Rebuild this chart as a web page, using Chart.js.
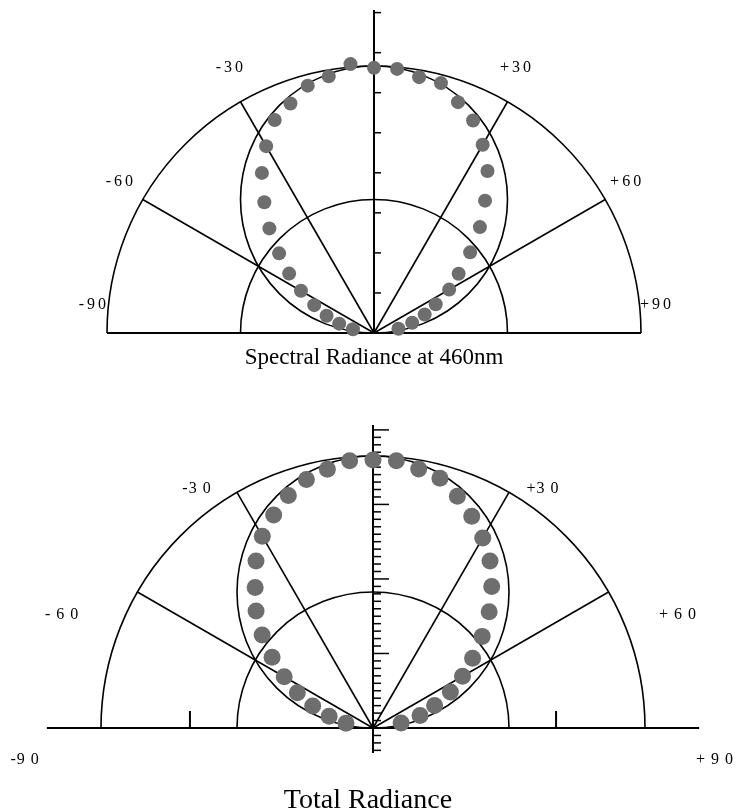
<!DOCTYPE html>
<html>
<head>
<meta charset="utf-8">
<script src="https://cdn.jsdelivr.net/npm/chart.js@4.4.0/dist/chart.umd.min.js"></script>
<style>
  body { margin: 0; background: #fff; }
  #wrap { position: relative; width: 739px; height: 812px; }
  canvas { position: absolute; left: 0; }
  #top-chart { top: 0; }
  #bottom-chart { top: 400px; }
</style>
</head>
<body>
<div id="wrap">
  <canvas id="top-chart" width="739" height="390"></canvas>
  <canvas id="bottom-chart" width="739" height="412"></canvas>
</div>
<script>
// Emission angle (deg from normal) and relative radiance (outer circle = 1)
const angles = [-80, -75, -70, -65, -60, -55, -50, -45, -40, -35, -30, -25, -20, -15, -10, -5,
                0, 5, 10, 15, 20, 25, 30, 35, 40, 45, 50, 55, 60, 65, 70, 75, 80];
const spectralValues = [0.080, 0.135, 0.189, 0.247, 0.316, 0.388, 0.464, 0.554, 0.639, 0.732, 0.808,
                        0.880, 0.915, 0.959, 0.976, 1.011, 0.993, 0.993, 0.973, 0.969, 0.920, 0.878,
                        0.814, 0.741, 0.647, 0.561, 0.470, 0.387, 0.325, 0.255, 0.202, 0.148, 0.093];
const totalValues = [0.101, 0.167, 0.236, 0.307, 0.377, 0.453, 0.532, 0.608, 0.674, 0.750, 0.814,
                     0.864, 0.910, 0.946, 0.966, 0.986, 0.985, 0.986, 0.967, 0.951, 0.907, 0.859,
                     0.807, 0.750, 0.679, 0.604, 0.524, 0.447, 0.380, 0.314, 0.241, 0.179, 0.105];

// Grid
const spokeAngles = [-60, -30, 30, 60];
const topAxisTicks = [0.15, 0.30, 0.45, 0.60, 0.75, 0.90, 1.05, 1.20];
const bottomMinorStep = 0.0274;
const bottomBaseTicks = [-0.673, 0.673];

// Text
const topAngleLabels = ['-90', '-60', '-30', '+30', '+60', '+90'];
const bottomAngleLabels = ['-9 0', '- 6 0', '-3 0', '+3 0', '+ 6 0', '+ 9 0'];
const topTitle = 'Spectral Radiance at 460nm';
const bottomTitle = 'Total Radiance';

function toPoints(values) {
    return values.map((r, i) => {
        const a = angles[i] * Math.PI / 180;
        return { x: r * Math.sin(a), y: r * Math.cos(a) };
    });
}

function line(ctx, x1, y1, x2, y2) {
    ctx.beginPath();
    ctx.moveTo(x1, y1);
    ctx.lineTo(x2, y2);
    ctx.stroke();
}

// Draws half circles, spokes, axes and labels from the chart scales
const polarFrame = {
    id: 'polarFrame',
    beforeDatasetsDraw(chart, args, opts) {
        const { ctx, scales: { x, y } } = chart;
        const px = v => x.getPixelForValue(v);
        const py = v => y.getPixelForValue(v);
        const cx = px(0), cy = py(0);
        const rx = px(1) - cx, ry = cy - py(1);

        ctx.save();
        ctx.strokeStyle = '#000';
        ctx.lineWidth = 1.6;

        [1, 0.5].forEach(r => {
            ctx.beginPath();
            ctx.ellipse(cx, cy, rx * r, ry * r, 0, Math.PI, 2 * Math.PI);
            ctx.stroke();
        });

        // cosine reference circle
        ctx.beginPath();
        ctx.ellipse(cx, py(0.5), rx / 2, ry / 2, 0, 0, 2 * Math.PI);
        ctx.stroke();

        spokeAngles.forEach(d => {
            const a = d * Math.PI / 180;
            line(ctx, cx, cy, px(Math.sin(a)), py(Math.cos(a)));
        });

        // baseline
        ctx.lineWidth = 2;
        line(ctx, px(-opts.baseExtent), cy, px(opts.baseExtent), cy);
        (opts.baseTicks || []).forEach(v => line(ctx, px(v), cy, px(v), cy - opts.baseTickLen));

        // vertical axis
        line(ctx, cx, py(opts.axisTop), cx, py(opts.axisBottom));
        ctx.lineWidth = 1.5;
        opts.ticks.forEach(t => line(ctx, cx, py(t.v), cx + t.len, py(t.v)));

        // angle labels
        ctx.fillStyle = '#000';
        ctx.font = '16px "Liberation Serif", "Times New Roman", serif';
        ctx.textAlign = 'center';
        ctx.textBaseline = 'middle';
        ctx.letterSpacing = opts.labelSpacing;
        opts.labels.forEach((text, i) => {
            const p = opts.labelPos[i];
            ctx.fillText(text, px(p[0]), py(p[1]));
        });

        ctx.letterSpacing = '0px';
        ctx.textBaseline = 'alphabetic';
        ctx.font = opts.titleFont;
        ctx.fillText(opts.title, opts.titleX, opts.titleY);
        ctx.restore();
    }
};

function makeChart(id, values, frame, xRange, yRange, dotRadius) {
    return new Chart(document.getElementById(id), {
        type: 'scatter',
        data: {
            datasets: [{
                data: toPoints(values),
                backgroundColor: '#6e6e6e',
                borderWidth: 0,
                pointRadius: dotRadius,
                clip: false
            }]
        },
        options: {
            responsive: false,
            animation: false,
            layout: { padding: 0, autoPadding: false },
            plugins: {
                legend: { display: false },
                tooltip: { enabled: false },
                polarFrame: frame
            },
            scales: {
                x: { type: 'linear', display: false, min: xRange[0], max: xRange[1] },
                y: { type: 'linear', display: false, min: yRange[0], max: yRange[1] }
            }
        },
        plugins: [polarFrame]
    });
}

// Top chart: origin at (374, 333), 267 px per unit
makeChart('top-chart', spectralValues, {
    baseExtent: 1,
    axisTop: 1.21,
    axisBottom: 0,
    ticks: topAxisTicks.map(v => ({ v: v, len: 7 })),
    labels: topAngleLabels,
    labelPos: [[-1.049, 0.105], [-0.948, 0.566], [-0.536, 0.993], [0.536, 0.993], [0.948, 0.566], [1.06, 0.105]],
    labelSpacing: '3px',
    title: topTitle,
    titleFont: '23px "Liberation Serif", "Times New Roman", serif',
    titleX: 374,
    titleY: 364
}, [-374 / 267, 365 / 267], [-57 / 267, 333 / 267], 7);

// Bottom chart: origin at (373, 728), 272 px per unit
const bottomTicks = [];
for (let k = -3; k <= 40; k++) {
    if (k === 0) continue;
    bottomTicks.push({ v: k * bottomMinorStep, len: k % 10 === 0 ? 16 : 8 });
}

makeChart('bottom-chart', totalValues, {
    baseExtent: 1.199,
    baseTicks: bottomBaseTicks,
    baseTickLen: 17,
    axisTop: 1.114,
    axisBottom: -0.092,
    ticks: bottomTicks,
    labels: bottomAngleLabels,
    labelPos: [[-1.279, -0.118], [-1.143, 0.415], [-0.647, 0.879], [0.625, 0.879], [1.121, 0.415], [1.257, -0.118]],
    labelSpacing: '1px',
    title: bottomTitle,
    titleFont: '28px "Liberation Serif", "Times New Roman", serif',
    titleX: 368,
    titleY: 408
}, [-373 / 272, 366 / 272], [-84 / 272, 328 / 272], 8.5);
</script>
</body>
</html>
